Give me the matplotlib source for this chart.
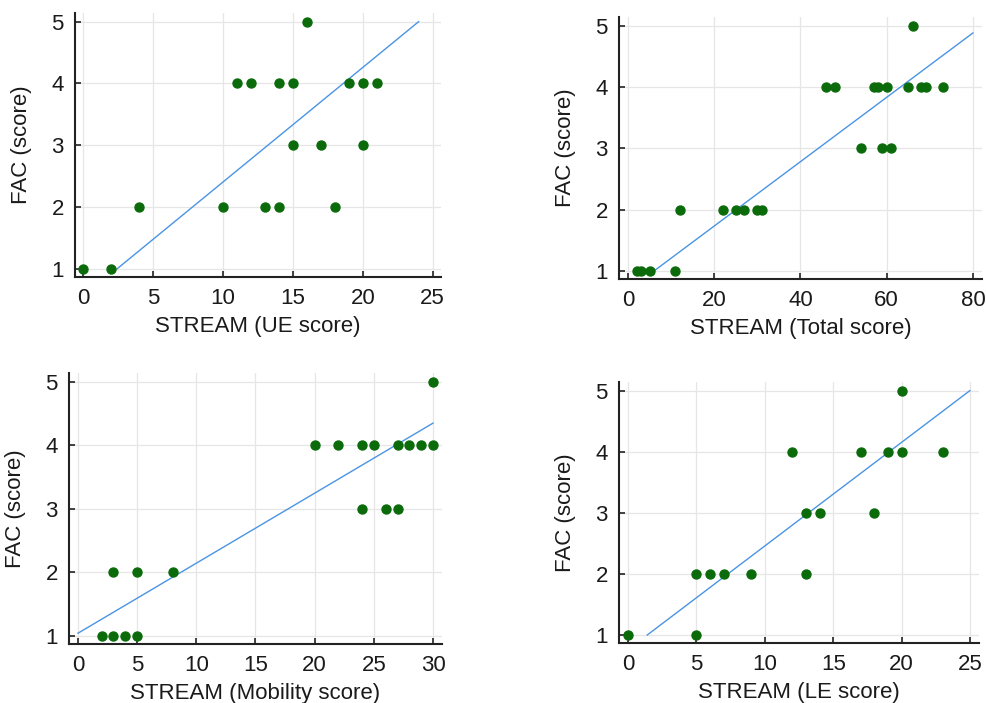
import matplotlib
matplotlib.use("Agg")
import matplotlib.pyplot as plt

plt.rcParams['font.family'] = ['Liberation Sans', 'DejaVu Sans']

# STREAM upper extremity vs FAC
ue_x = [0, 2, 4, 10, 13, 14, 18, 15, 17, 20, 11, 12, 14, 15, 19, 20, 21, 16]
ue_y = [1, 1, 2, 2, 2, 2, 2, 3, 3, 3, 4, 4, 4, 4, 4, 4, 4, 5]
ue_fit = ([2.4, 24], [1, 5])

# STREAM total vs FAC
tot_x = [2, 3, 5, 11, 12, 22, 25, 27, 30, 31, 54, 59, 61,
         46, 48, 57, 58, 60, 65, 68, 69, 73, 66]
tot_y = [1, 1, 1, 1, 2, 2, 2, 2, 2, 2, 3, 3, 3,
         4, 4, 4, 4, 4, 4, 4, 4, 4, 5]
tot_fit = ([6, 80], [1, 4.88])

# STREAM mobility vs FAC
mob_x = [2, 3, 4, 5, 3, 5, 8, 24, 26, 27,
         20, 22, 24, 25, 27, 28, 29, 30, 30]
mob_y = [1, 1, 1, 1, 2, 2, 2, 3, 3, 3,
         4, 4, 4, 4, 4, 4, 4, 4, 5]
mob_fit = ([0, 30], [1.04, 4.35])

# STREAM lower extremity vs FAC
le_x = [0, 5, 5, 6, 7, 9, 13, 13, 14, 18, 12, 17, 19, 20, 23, 20]
le_y = [1, 1, 2, 2, 2, 2, 2, 3, 3, 3, 4, 4, 4, 4, 4, 5]
le_fit = ([1.4, 25], [1, 5])

panels = [
    (ue_x, ue_y, ue_fit, "STREAM (UE score)", [0, 5, 10, 15, 20, 25], (-0.6, 25.6),
     [75, 13, 441, 277]),
    (tot_x, tot_y, tot_fit, "STREAM (Total score)", [0, 20, 40, 60, 80], (-2.1, 82.1),
     [619, 17, 982, 279]),
    (mob_x, mob_y, mob_fit, "STREAM (Mobility score)", [0, 5, 10, 15, 20, 25, 30], (-0.76, 30.76),
     [69, 373, 442, 644]),
    (le_x, le_y, le_fit, "STREAM (LE score)", [0, 5, 10, 15, 20, 25], (-0.66, 25.66),
     [619, 382, 979, 643]),
]

W, H = 987, 703
fig = plt.figure(figsize=(W / 100, H / 100), dpi=100)

for xs, ys, fit, xlabel, xticks, xlim, box in panels:
    l, t, r, b = box
    ax = fig.add_axes([l / W, 1 - b / H, (r - l) / W, (b - t) / H])
    ax.set_axisbelow(True)
    ax.grid(True, color='#e6e6e6', lw=0.9)
    ax.plot(fit[0], fit[1], color='#4a94e4', lw=1.0, zorder=2)
    ax.scatter(xs, ys, s=42, color='#0b6b0b', zorder=3, clip_on=False)
    ax.set_xlim(*xlim)
    ax.set_ylim(0.87, 5.14)
    ax.set_xticks(xticks)
    ax.set_yticks([1, 2, 3, 4, 5])
    for s in ['top', 'right']:
        ax.spines[s].set_visible(False)
    for s in ['left', 'bottom']:
        ax.spines[s].set_color('#222222')
        ax.spines[s].set_linewidth(1.5)
    ax.tick_params(direction='in', length=4, width=1.3, color='#333333',
                   labelsize=16, labelcolor='#1a1a1a', pad=8)
    ax.set_xlabel(xlabel, fontsize=16, color='#1a1a1a', labelpad=5)
    ax.set_ylabel("FAC (score)", fontsize=16, color='#1a1a1a', labelpad=14)

fig.savefig("out.png", dpi=100)
